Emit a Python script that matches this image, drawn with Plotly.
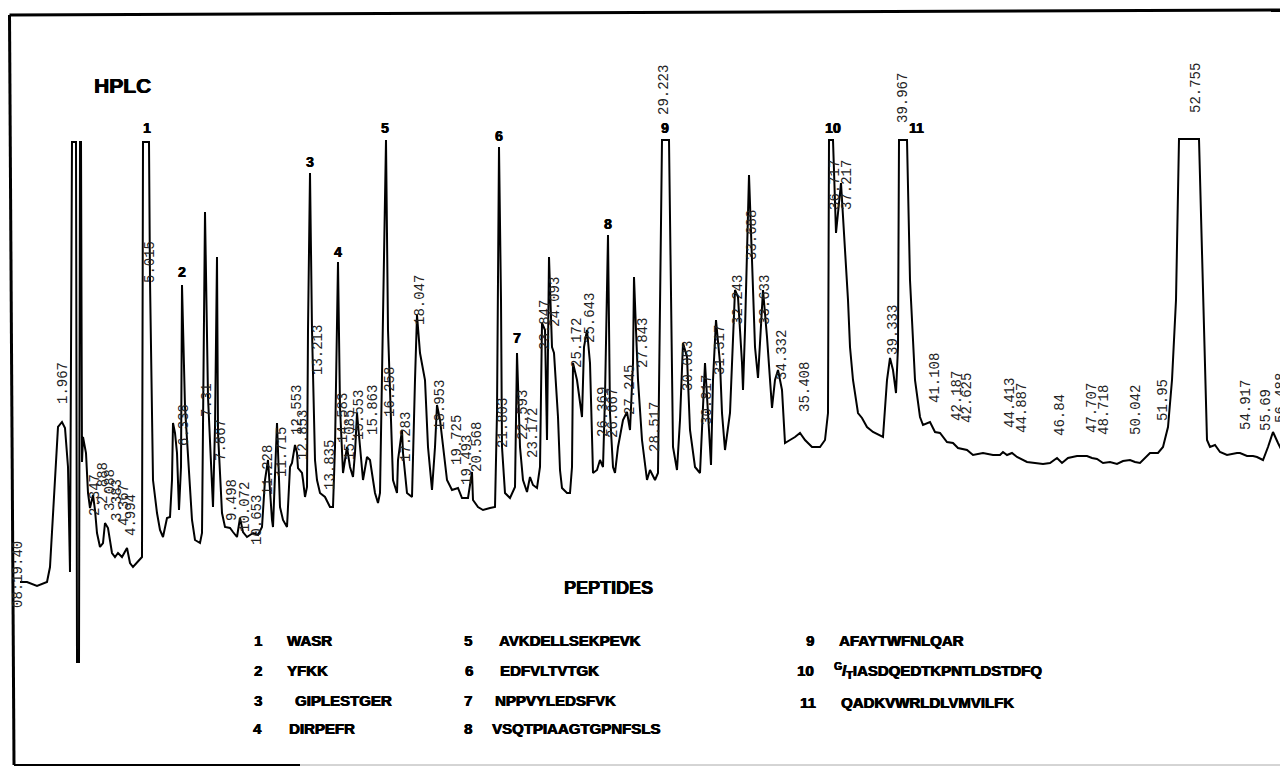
import plotly.graph_objects as go

# ---------------- data ----------------
# detector trace (time in min, absorbance in AU); flat tops = pen off-scale
time_min = [
    -1.00, -0.65, -0.15, 0.35, 0.50, 0.65, 0.80, 0.90, 1.10, 1.25, 1.40, 1.50,
    1.60, 1.80, 1.85, 1.95, 2.00, 2.05, 2.10, 2.15, 2.30, 2.40, 2.50, 2.65, 2.75, 2.85, 3.00,
    3.15, 3.25, 3.40, 3.60, 3.75, 3.90, 4.10, 4.35, 4.50, 4.65, 4.90, 5.10,
    5.15, 5.45,
    5.50, 5.65, 5.85, 6.00, 6.15, 6.35, 6.50, 6.60, 6.65, 6.75, 6.85, 6.95, 7.05, 7.10, 7.25,
    7.35, 7.45, 7.60, 7.75, 8.00, 8.10, 8.15, 8.25, 8.40, 8.60, 8.65, 8.75, 8.85, 8.90, 9.00,
    9.10, 9.25, 9.50, 9.65, 9.85, 10.00, 10.15, 10.35, 10.65, 10.90, 11.10, 11.25, 11.40, 11.60,
    11.65, 11.85, 12.00, 12.15, 12.35, 12.50, 12.60, 12.75, 12.85, 12.90, 13.10, 13.15, 13.25, 13.35,
    13.40, 13.50, 13.60, 13.75, 13.85, 14.00, 14.25, 14.50, 14.65, 14.75, 14.90, 15.00, 15.15,
    15.35, 15.50, 15.65, 15.75, 15.85, 16.00, 16.15, 16.35, 16.50, 16.75, 16.90, 17.00,
    17.15, 17.30, 17.40, 17.50, 17.65, 17.85, 17.90, 18.10, 18.15, 18.35, 18.60, 18.75, 18.85,
    19.00, 19.25, 19.40, 19.60, 19.75, 19.85, 20.00, 20.35, 20.60, 20.90, 21.10, 21.40, 21.60,
    21.65, 21.90, 22.15, 22.50, 22.75, 22.85,
    22.95, 23.05, 23.10, 23.25, 23.50, 23.75, 23.85, 24.00, 24.15, 24.35, 24.50, 24.65, 24.85,
    25.00, 25.10, 25.25, 25.35, 25.45, 25.60, 25.70, 25.80, 25.90, 26.00, 26.10, 26.35, 26.50,
    26.60, 26.65, 26.85, 27.10, 27.20, 27.35, 27.50, 27.60, 27.65, 27.85, 28.00, 28.15, 28.25,
    28.40, 28.50, 28.65, 28.75, 28.90, 29.15, 29.35, 29.50, 29.65, 29.70, 29.80, 29.90, 30.10,
    30.35, 30.50, 30.75, 30.90,
    31.10, 31.45,
    31.65, 31.85, 32.00, 32.15, 32.35, 32.50, 32.75, 33.00, 33.15, 33.25, 33.40, 33.55, 33.65,
    33.80, 34.00, 34.10, 34.25, 34.50, 34.75, 34.90, 35.10, 35.15, 35.25, 35.45, 35.60, 35.75,
    35.90, 36.00, 36.15, 36.35, 36.50, 36.60, 36.75, 36.90, 37.10, 37.25, 37.50, 37.75, 38.00,
    38.25, 38.60, 39.00, 39.25, 39.40,
    39.45, 39.65, 39.80, 40.05, 40.40, 40.50, 40.65, 40.90, 41.10, 41.35, 41.65, 42.00, 42.15,
    42.35, 42.50, 42.65, 42.80, 42.90,
    42.95, 43.35,
    43.50, 43.75, 44.00, 44.15, 44.35, 44.50, 44.75, 45.00, 45.35, 45.65, 45.90, 46.35, 46.65,
    47.15, 47.65, 48.00, 48.15, 48.35, 48.60, 48.85, 49.35, 49.85, 50.15, 50.50, 50.85, 51.10,
    51.40, 51.85, 52.35, 52.60, 52.85, 53.15, 53.50, 53.85, 54.15, 54.50, 54.75, 55.00, 55.25,
    55.50, 55.90, 56.15, 56.40, 56.60, 56.80,
    56.95, 57.95,
    58.15, 58.25, 58.35, 58.50, 58.75, 59.00, 59.35, 59.85, 60.00, 60.35, 60.65, 60.85, 61.15,
    61.40, 61.65, 61.90, 62.15, 62.40,
]
absorbance = [
    0.036, 0.036, 0.028, 0.036, 0.066, 0.174, 0.290, 0.346, 0.356, 0.344, 0.266, 0.056,
    0.916, 0.916, -0.124, -0.124, 0.916, 0.916, 0.276, 0.326, 0.294, 0.214, 0.184, 0.210, 0.180, 0.134, 0.106,
    0.114, 0.154, 0.144, 0.094, 0.086, 0.094, 0.086, 0.104, 0.074, 0.066, 0.076, 0.086,
    0.916, 0.916,
    0.640, 0.240, 0.174, 0.140, 0.126, 0.164, 0.166, 0.240, 0.354, 0.334, 0.294, 0.180, 0.266, 0.630, 0.386,
    0.320, 0.240, 0.160, 0.120, 0.114, 0.134, 0.306, 0.776, 0.406, 0.226, 0.186, 0.346, 0.686, 0.334, 0.240,
    0.174, 0.146, 0.144, 0.136, 0.126, 0.164, 0.136, 0.126, 0.134, 0.130, 0.146, 0.240, 0.280, 0.160,
    0.146, 0.354, 0.186, 0.160, 0.146, 0.266, 0.274, 0.310, 0.294, 0.264, 0.254, 0.240, 0.206, 0.226,
    0.540, 0.854, 0.540, 0.280, 0.240, 0.214, 0.206, 0.186, 0.186, 0.306, 0.676, 0.386, 0.254,
    0.306, 0.266, 0.246, 0.294, 0.374, 0.306, 0.240, 0.286, 0.280, 0.214, 0.194, 0.214,
    0.540, 0.920, 0.540, 0.400, 0.240, 0.214, 0.280, 0.340, 0.294, 0.214, 0.206, 0.440, 0.570,
    0.494, 0.440, 0.306, 0.220, 0.306, 0.390, 0.360, 0.240, 0.220, 0.224, 0.204, 0.204, 0.256,
    0.200, 0.186, 0.180, 0.184, 0.186, 0.374,
    0.906, 0.600, 0.306, 0.214, 0.204, 0.226, 0.494, 0.306, 0.240, 0.216, 0.246, 0.230, 0.224,
    0.266, 0.554, 0.540, 0.320, 0.686, 0.506, 0.494, 0.440, 0.366, 0.260, 0.224, 0.214, 0.214,
    0.266, 0.474, 0.440, 0.366, 0.506, 0.540, 0.474, 0.340, 0.254, 0.260, 0.280, 0.266, 0.406,
    0.730, 0.374, 0.266, 0.254, 0.306, 0.360, 0.376, 0.340, 0.474, 0.646, 0.540, 0.440, 0.320,
    0.240, 0.260, 0.240, 0.254,
    0.920, 0.920,
    0.306, 0.260, 0.360, 0.514, 0.486, 0.340, 0.266, 0.254, 0.406, 0.474, 0.374, 0.270, 0.440,
    0.560, 0.474, 0.374, 0.300, 0.374, 0.620, 0.606, 0.474, 0.420, 0.540, 0.850, 0.680, 0.506,
    0.444, 0.506, 0.620, 0.526, 0.440, 0.384, 0.440, 0.460, 0.420, 0.314, 0.320, 0.326, 0.334,
    0.320, 0.306, 0.306, 0.320, 0.374,
    0.920, 0.920, 0.734, 0.834, 0.600, 0.506, 0.440, 0.374, 0.364, 0.346, 0.336, 0.330, 0.326,
    0.440, 0.484, 0.460, 0.414, 0.506,
    0.920, 0.920,
    0.640, 0.440, 0.366, 0.350, 0.354, 0.356, 0.336, 0.334, 0.316, 0.314, 0.304, 0.300, 0.290,
    0.294, 0.290, 0.290, 0.296, 0.290, 0.294, 0.286, 0.276, 0.274, 0.272, 0.274, 0.284, 0.274,
    0.284, 0.288, 0.288, 0.284, 0.282, 0.274, 0.276, 0.272, 0.278, 0.280, 0.276, 0.274, 0.284,
    0.294, 0.294, 0.306, 0.346, 0.440, 0.600,
    0.922, 0.922,
    0.600, 0.440, 0.320, 0.306, 0.310, 0.296, 0.290, 0.294, 0.294, 0.288, 0.288, 0.286, 0.280,
    0.306, 0.336, 0.314, 0.294, 0.290,
]

# integrator retention-time printouts
rt_labels = [
    "08:19:40", "1.967", "2.347", "2.888", "3.088", "3.383", "4.367", "4.994", "5.015",
    "6.338", "7.31", "7.867", "9.498", "10.072", "10.653", "11.228", "11.715", "12.553",
    "12.853", "13.213", "13.835", "14.583", "15.085", "15.553", "15.863", "16.258", "17.283",
    "18.047", "18.953", "19.725", "19.493", "20.568", "21.803", "22.593", "23.172", "23.847",
    "24.093", "25.172", "25.643", "26.369", "26.667", "27.245", "27.843", "28.517", "29.223",
    "30.083", "30.817", "31.317", "32.243", "33.688", "33.633", "34.332", "35.408", "36.717",
    "37.217", "39.333", "39.967", "41.108", "42.187", "42.625", "44.413", "44.887", "46.84",
    "47.707", "48.718", "50.042", "51.95", "52.755", "54.917", "55.69", "56.488",
]
rt_label_x = [
    -1.10, 1.15, 2.75, 3.15, 3.50, 3.85, 4.20, 4.55, 5.50,
    7.20, 8.35, 9.05, 9.60, 10.25, 10.85, 11.40, 12.10, 12.85,
    13.15, 13.90, 14.50, 15.15, 15.50, 15.95, 16.65, 17.50, 18.30,
    19.00, 20.00, 20.85, 21.35, 21.85, 23.15, 24.15, 24.65, 25.25,
    25.75, 26.85, 27.50, 28.15, 28.65, 29.50, 30.15, 30.75, 31.20,
    32.40, 33.35, 34.00, 34.90, 35.60, 36.25, 37.10, 38.25, 39.75,
    40.35, 42.65, 43.15, 44.75, 45.85, 46.35, 48.50, 49.10, 51.00,
    52.60, 53.20, 54.80, 56.15, 57.80, 60.30, 61.30, 62.05,
]
rt_label_y = [
    0.050, 0.434, 0.210, 0.234, 0.220, 0.200, 0.190, 0.170, 0.676,
    0.350, 0.400, 0.320, 0.200, 0.186, 0.160, 0.260, 0.296, 0.380,
    0.330, 0.500, 0.270, 0.364, 0.330, 0.370, 0.380, 0.416, 0.326,
    0.600, 0.390, 0.320, 0.280, 0.306, 0.354, 0.370, 0.334, 0.550,
    0.596, 0.514, 0.564, 0.376, 0.374, 0.420, 0.514, 0.346, 1.020,
    0.468, 0.400, 0.500, 0.600, 0.730, 0.600, 0.490, 0.426, 0.830,
    0.830, 0.540, 1.004, 0.444, 0.408, 0.404, 0.394, 0.384, 0.370,
    0.384, 0.380, 0.380, 0.400, 1.024, 0.390, 0.380, 0.404,
]

# peak numbers
peak_ids = ["1", "2", "3", "4", "5", "6", "7", "8", "9", "10", "11"]
peak_id_x = [5.35, 7.10, 13.50, 14.90, 17.25, 22.95, 23.85, 28.40, 31.25, 39.65, 43.80]
peak_id_y = [0.944, 0.656, 0.876, 0.696, 0.944, 0.928, 0.524, 0.752, 0.944, 0.944, 0.944]

# peptide key
peptide_numbers = ["1", "2", "3", "4", "5", "6", "7", "8", "9", "10", "11"]
peptide_sequences = [
    "WASR", "YFKK", "GIPLESTGER", "DIRPEFR",
    "AVKDELLSEKPEVK", "EDFVLTVTGK", "NPPVYLEDSFVK", "VSQTPIAAGTGPNFSLS",
    "AFAYTWFNLQAR", "<sup>G</sup>/<sub>T</sub>IASDQEDTKPNTLDSTDFQ", "QADKVWRLDLVMVILFK",
]

# ---------------- figure ----------------
# the page body has an 8 px margin, so the figure is 8 px smaller than the window
W, H = 1280, 759
OFF = 8


def px(x):
    return (x - OFF) / W


def py(y):
    return 1 - (y - OFF) / H


fig = go.Figure()
fig.add_trace(go.Scatter(
    x=time_min, y=absorbance, mode="lines",
    line=dict(color="black", width=2), hoverinfo="skip", showlegend=False,
    cliponaxis=False,
))

ann = []
mono = dict(family="Liberation Mono, DejaVu Sans Mono, monospace", size=14, color="#222")
for txt, x, y in zip(rt_labels, rt_label_x, rt_label_y):
    ann.append(dict(x=x, y=y, xref="x", yref="y", text=txt, showarrow=False,
                    textangle=-90, font=mono, xanchor="center", yanchor="middle"))

heavy = "0.6px 0 0 black, -0.3px 0 0 black"
bold = dict(family="Liberation Sans, Arial, sans-serif", size=14, color="black", shadow=heavy)
for txt, x, y in zip(peak_ids, peak_id_x, peak_id_y):
    ann.append(dict(x=x, y=y, xref="x", yref="y", text="<b>%s</b>" % txt, showarrow=False,
                    font=bold, xanchor="center", yanchor="middle"))

ann.append(dict(x=px(122), y=py(86), xref="paper", yref="paper", text="<b>HPLC</b>",
                showarrow=False,
                font=dict(family="Liberation Sans, Arial", size=21, color="black", shadow=heavy),
                xanchor="center", yanchor="middle"))
ann.append(dict(x=px(608), y=py(588), xref="paper", yref="paper", text="<b>PEPTIDES</b>",
                showarrow=False,
                font=dict(family="Liberation Sans, Arial", size=18, color="black", shadow=heavy),
                xanchor="center", yanchor="middle"))

# key layout (pixel positions of the printed legend block)
num_px = [258, 258, 258, 257, 468, 469, 468, 468, 810, 805, 808]
seq_px = [285, 285, 293, 287, 497, 498, 493, 490, 837, 832, 839]
row_py = [640, 670, 700, 728, 640, 670, 700, 728, 640, 670, 702]
keyfont = dict(family="Liberation Sans, Arial", size=15, color="black", shadow=heavy)
for n, s, nx, sx, ry in zip(peptide_numbers, peptide_sequences, num_px, seq_px, row_py):
    ann.append(dict(x=px(nx), y=py(ry), xref="paper", yref="paper", text="<b>%s</b>" % n,
                    showarrow=False, font=keyfont, xanchor="center", yanchor="middle"))
    ann.append(dict(x=px(sx), y=py(ry), xref="paper", yref="paper", text="<b>%s</b>" % s,
                    showarrow=False, font=keyfont, xanchor="left", yanchor="middle"))

frame = dict(color="black", width=3)
shapes = [
    dict(type="line", xref="paper", yref="paper", x0=px(9.5), y0=py(15), x1=1.0, y1=py(10), line=frame),
    dict(type="line", xref="paper", yref="paper", x0=px(9.5), y0=py(15), x1=px(14), y1=py(765), line=frame),
    dict(type="line", xref="paper", yref="paper", x0=px(14), y0=py(765), x1=px(300), y1=py(765),
         line=dict(color="black", width=2)),
    dict(type="line", xref="paper", yref="paper", x0=px(300), y0=py(765), x1=1.0, y1=py(765),
         line=dict(color="#aaa", width=1)),
]

fig.update_layout(
    width=W, height=H,
    margin=dict(l=0, r=0, t=0, b=0, pad=0),
    paper_bgcolor="white", plot_bgcolor="white",
    xaxis=dict(range=[-1.6, 62.4], visible=False, fixedrange=True),
    yaxis=dict(range=[-0.334, 1.184], visible=False, fixedrange=True),
    annotations=ann, shapes=shapes, showlegend=False,
)

fig.write_html("out.html", config={"displayModeBar": False})
